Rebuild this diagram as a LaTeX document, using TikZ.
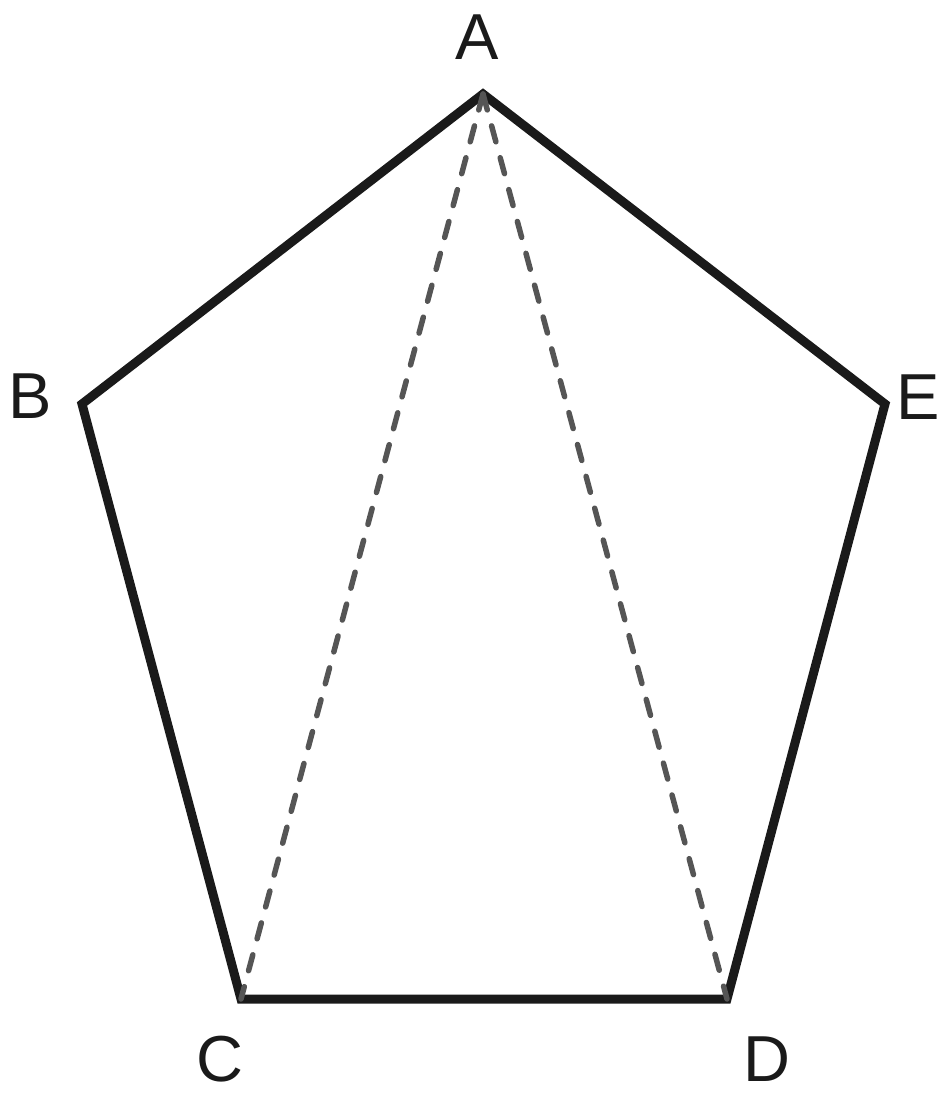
\documentclass[tikz,border=0pt]{standalone}
\usepackage{fontspec}
\setmainfont{Liberation Sans}
\begin{document}
\begin{tikzpicture}[x=1pt,y=-1pt,
  side/.style={draw=solidc,line width=9pt,line join=miter},
  diag/.style={draw=dashc,line width=5.5pt,line cap=round,dash pattern=on 16.5pt off 16.5pt},
  lbl/.style={inner sep=0pt,text=solidc,font=\fontsize{65}{70}\selectfont}]
\definecolor{solidc}{HTML}{1A1A1A}
\definecolor{dashc}{HTML}{555555}
\useasboundingbox (0,0) rectangle (949,1097);
\coordinate (A) at (483,94);
\coordinate (B) at (82,404);
\coordinate (C) at (241,999);
\coordinate (D) at (727,999);
\coordinate (E) at (885,404);
\draw[side] (A) -- (B) -- (C) -- (D) -- (E) -- cycle;
\draw[diag] (A) -- (C);
\draw[diag] (A) -- (D);
\node[lbl] (lA) at (477,37.5) {A};
\node[lbl] (lB) at (30,396.5) {B};
\node[lbl] (lC) at (220,1059) {C};
\node[lbl] (lD) at (767,1059.5) {D};
\node[lbl] (lE) at (918.5,397) {E};
\end{tikzpicture}
\end{document}
